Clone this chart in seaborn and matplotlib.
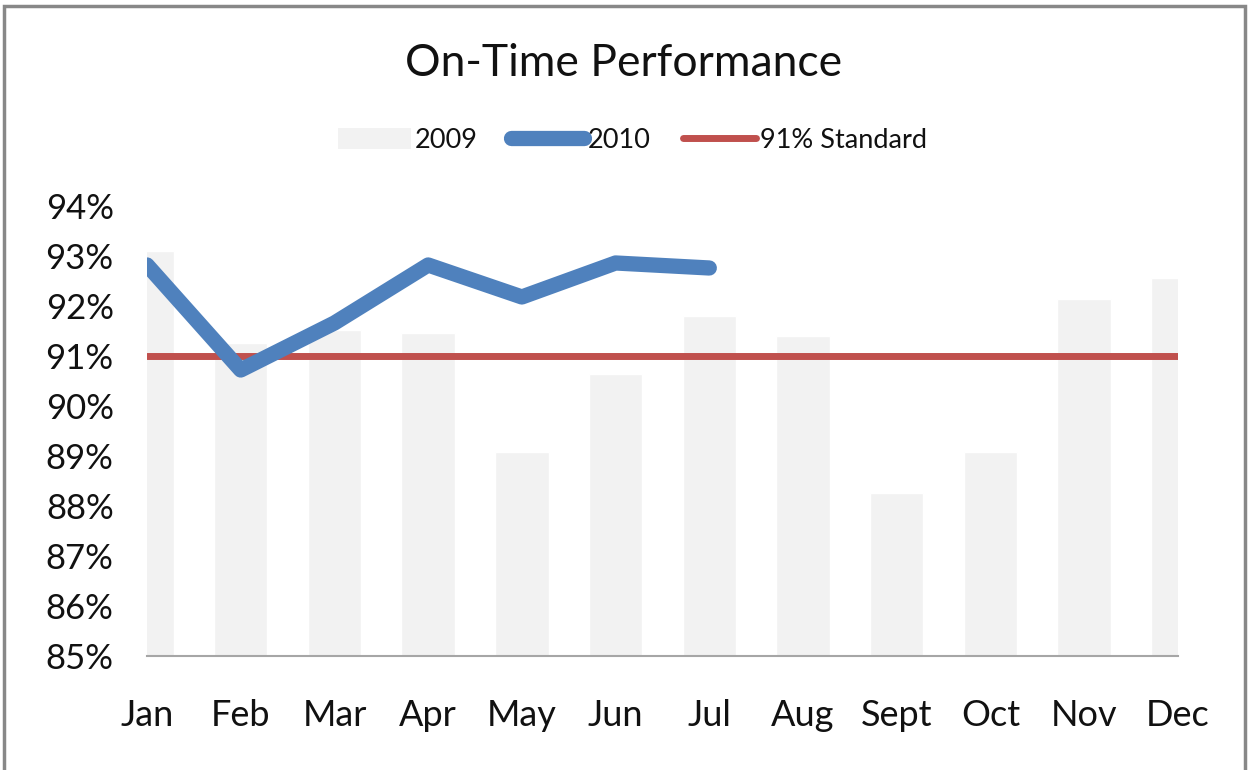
import numpy as np
import pandas as pd
import seaborn as sns
import matplotlib
matplotlib.use('Agg')
import matplotlib.pyplot as plt
from matplotlib.lines import Line2D
from matplotlib.patches import Patch, Rectangle

months = ["Jan", "Feb", "Mar", "Apr", "May", "Jun", "Jul", "Aug", "Sept", "Oct", "Nov", "Dec"]
perf_2009 = [93.1, 91.26, 91.52, 91.46, 89.08, 90.64, 91.8, 91.4, 88.26, 89.08, 92.14, 92.56]
perf_2010 = [92.82, 90.72, 91.66, 92.82, 92.18, 92.86, 92.76]
standard = 91
y_ticks = [85, 86, 87, 88, 89, 90, 91, 92, 93, 94]

sns.set_theme(style="white")
plt.rcParams['font.family'] = ['Lato', 'DejaVu Sans']
plt.rcParams['text.color'] = '#111111'

df09 = pd.DataFrame({"month": months, "pct": perf_2009})
df10 = pd.DataFrame({"pos": np.arange(len(perf_2010)), "pct": perf_2010})

fig = plt.figure(figsize=(12.48, 7.7), dpi=100)
ax = fig.add_axes([0.1178, 0.148, 0.826, 0.5845])

sns.barplot(data=df09, x="month", y="pct", order=months, color="#f2f2f2",
            saturation=1, width=0.57, ax=ax, zorder=1)
ax.axhline(standard, color="#c0504d", lw=5, solid_capstyle="round", zorder=2)
sns.lineplot(data=df10, x="pos", y="pct", color="#4f81bd", lw=11, ax=ax, zorder=3)
for ln in ax.lines:
    ln.set_solid_capstyle("round")
    ln.set_solid_joinstyle("round")

ax.set_xlim(0, len(months) - 1)
ax.set_ylim(y_ticks[0], y_ticks[-1])
ax.set_yticks(y_ticks)
ax.set_yticklabels([f"{t}%" for t in y_ticks])
ax.set_xticks(range(len(months)))
ax.set_xticklabels(months)
ax.set_xlabel("")
ax.set_ylabel("")
ax.tick_params(axis="y", labelsize=25, pad=24, length=0, colors="#111111")
ax.tick_params(axis="x", labelsize=26, pad=31, length=0, colors="#111111")
sns.despine(ax=ax, left=True)
ax.spines["bottom"].set_color("#a6a6a6")
ax.spines["bottom"].set_linewidth(1.5)

fig.text(0.5, 0.918, "On-Time Performance", ha="center", va="center",
         fontsize=32, color="#111111")

handles = [Patch(facecolor="#f2f2f2", edgecolor="none"),
           Line2D([], [], color="#4f81bd", lw=11, solid_capstyle="round"),
           Line2D([], [], color="#c0504d", lw=5, solid_capstyle="round")]
fig.legend(handles, ["2009", "2010", "91% Standard"], loc="center",
           bbox_to_anchor=(0.507, 0.818), ncol=3, frameon=False, fontsize=19.5,
           handlelength=2.7, handleheight=0.8, handletextpad=0.15, columnspacing=1.2,
           labelcolor="#111111")

fig.patches.append(Rectangle((0.0036, -0.05), 0.994, 1.042, transform=fig.transFigure,
                             fill=False, edgecolor="#888888", lw=2.5))

fig.savefig("out.png", dpi=100)
